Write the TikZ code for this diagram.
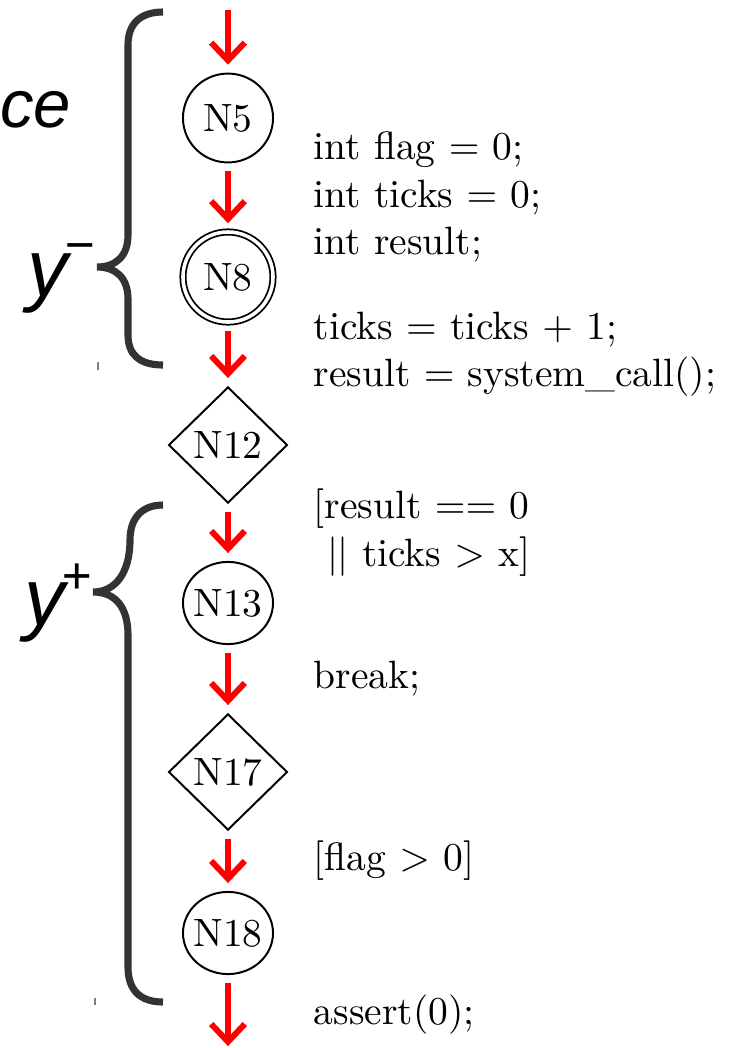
\documentclass[tikz,border=0pt]{standalone}
\usepackage{fontspec}
\usepackage{tikz}
\usetikzlibrary{positioning,arrows.meta,shapes.geometric}
\newfontfamily\slidefont{Liberation Sans}
\definecolor{bracegray}{RGB}{51,51,51}

\begin{document}
\begin{tikzpicture}[x=0.2532pt, y=-0.2532pt,
    state/.style={draw, line width=0.5pt, ellipse, inner sep=-2pt, minimum width=22.8pt, minimum height=20.8pt},
    accept/.style={draw, circle, double, double distance=0.9pt, line width=0.45pt, inner sep=0pt, minimum size=22.8pt},
    branch/.style={draw, line width=0.5pt, diamond, aspect=1, inner sep=0pt, minimum width=30.1pt, minimum height=29.4pt},
    flow/.style={-{Straight Barb[length=4.5pt,width=8.5pt]}, red, line width=1.5pt, shorten <=2pt, shorten >=2pt},
    code/.style={anchor=west, xshift=21pt, align=left, text=black, inner sep=0pt},
    brace/.style={bracegray, line width=1.8pt},
    part/.style={font=\slidefont\itshape\fontsize{20.5}{20.5}\selectfont, inner sep=0pt, anchor=base east}]
    \useasboundingbox (0,0) rectangle (734,1048);

    % Flow nodes
    \node[state, minimum height=22.5pt] (N5) at (228,118) {N5};
    \node[accept] (N8) at (228,277) {N8};
    \node[branch] (N12) at (228,445) {N12};
    \node[state] (N13) at (228,603) {N13};
    \node[branch] (N17) at (228,772) {N17};
    \node[state] (N18) at (228,933) {N18};
    \coordinate (entry) at (228,2);
    \coordinate (exit) at (228,1054);

    % Edges and their code
    \draw[flow] (entry) -- (N5);
    \draw[flow] (N5) -- node[code] {int flag $=$ 0;\\int ticks $=$ 0;\\int result;} (N8);
    \draw[flow] (N8) -- node[code] {ticks $=$ ticks $+$ 1;\\result $=$ system\_call();} (N12);
    \draw[flow] (N12) -- node[code] {[result $==$ 0\\\ $||$ ticks $>$ x]} (N13);
    \draw[flow] (N13) -- node[code] {break;} (N17);
    \draw[flow] (N17) -- node[code] {[flag $>$ 0]} (N18);
    \draw[flow] (N18) -- node[code] {assert(0);} (exit);

    % Braces
    \draw[brace] (163,12) .. controls (140,12) and (128,24) .. (128,45) -- (128,235)
        .. controls (128,256) and (116,267) .. (97,267)
        .. controls (116,267) and (128,278) .. (128,299) -- (128,335)
        .. controls (128,355) and (140,365) .. (163,365);
    \draw[brace] (163,505) .. controls (142,505) and (130,518) .. (130,540)
        .. controls (130,572) and (116,592) .. (93,592)
        .. controls (116,592) and (128,608) .. (128,635) -- (128,967)
        .. controls (128,990) and (140,1002) .. (163,1002);

    % Labels
    \node[part] (yminus) at (95,296) {y\kern-1pt\raisebox{8.5pt}{\fontsize{13}{13}\selectfont −}};
    \node[part] (yplus) at (92,625) {y\kern-1pt\raisebox{8pt}{\fontsize{13}{13}\selectfont +}};
    \node[part, font=\slidefont\itshape\fontsize{17}{17}\selectfont] (title) at (72,127) {ce};

    % Stray marks
    \draw[gray, line width=0.4pt] (98,362) -- (98,370);
    \draw[gray, line width=0.4pt] (95,998) -- (95,1005);
\end{tikzpicture}
\end{document}
